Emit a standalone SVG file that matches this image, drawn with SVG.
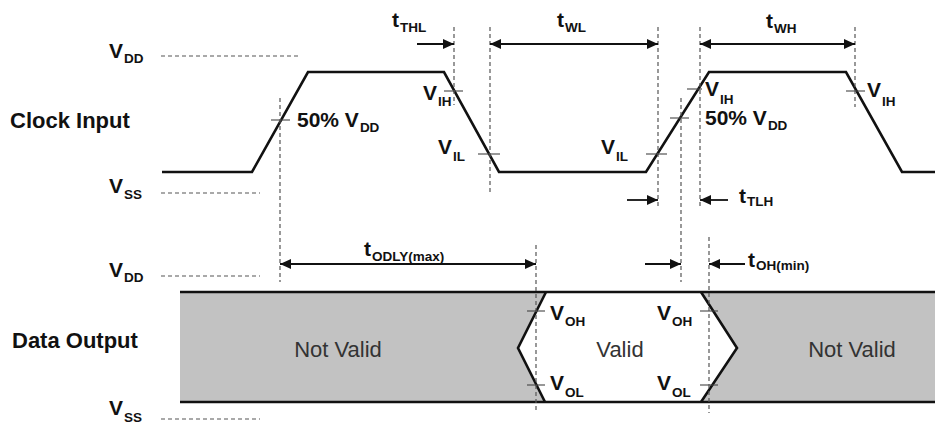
<svg xmlns="http://www.w3.org/2000/svg" width="935" height="426" viewBox="0 0 935 426">
<style>
.lbl{font-family:"Liberation Sans",Arial,sans-serif;font-weight:bold;font-size:21px;fill:#111}
.sub{font-size:13.5px}
.row{font-family:"Liberation Sans",Arial,sans-serif;font-weight:bold;font-size:22px;fill:#111}
.st{font-family:"Liberation Sans",Arial,sans-serif;font-size:22px;fill:#333}
.wave{fill:none;stroke:#111;stroke-width:2.6;stroke-linejoin:miter}
.ref{stroke:#555;stroke-width:1.2;stroke-dasharray:4 3;fill:none}
.tick{stroke:#444;stroke-width:1.1}
.arr{stroke:#111;stroke-width:1.8;fill:none}
.band{fill:#c2c2c2;stroke:none}
</style>
<defs>
<marker id="ah" markerUnits="userSpaceOnUse" markerWidth="12" markerHeight="10" refX="11" refY="5" orient="auto-start-reverse">
<path d="M0,0 L11,5 L0,10 Z" fill="#111"/>
</marker>
</defs>
<rect width="935" height="426" fill="#fff"/>

<g id="levels">
<line class="ref" x1="161" y1="56" x2="300" y2="56"/>
<line class="ref" x1="161" y1="193" x2="260" y2="193"/>
<line class="ref" x1="161" y1="276" x2="260" y2="276"/>
<line class="ref" x1="161" y1="419" x2="260" y2="419"/>
<text class="lbl" x="109" y="58">V<tspan class="sub" dx="1" dy="5">DD</tspan></text>
<text class="lbl" x="109" y="193">V<tspan class="sub" dx="1" dy="6">SS</tspan></text>
<text class="lbl" x="109" y="277">V<tspan class="sub" dx="1" dy="5">DD</tspan></text>
<text class="lbl" x="109" y="415">V<tspan class="sub" dx="1" dy="7">SS</tspan></text>
<text class="row" x="10" y="128">Clock Input</text>
<text class="row" x="12" y="348">Data Output</text>
</g>

<g id="clock">
<polyline class="wave" points="162,172 252,172 308,72 444,72 499,172 646,172 709,72 846,72 902,172 935,172"/>
<line class="tick" x1="271" y1="120" x2="290" y2="120"/>
<line class="tick" x1="444" y1="91" x2="463" y2="91"/>
<line class="tick" x1="478" y1="154" x2="500" y2="154"/>
<line class="tick" x1="646" y1="154" x2="667" y2="154"/>
<line class="tick" x1="670" y1="118" x2="689" y2="118"/>
<line class="tick" x1="687" y1="89" x2="702" y2="89"/>
<line class="tick" x1="846" y1="91" x2="865" y2="91"/>
<text class="lbl" x="297" y="127">50% V<tspan class="sub" dx="1" dy="5">DD</tspan></text>
<text class="lbl" x="423" y="100">V<tspan class="sub" dx="1" dy="6">IH</tspan></text>
<text class="lbl" x="438" y="154">V<tspan class="sub" dx="1" dy="7">IL</tspan></text>
<text class="lbl" x="601" y="154">V<tspan class="sub" dx="1" dy="7">IL</tspan></text>
<text class="lbl" x="705" y="96">V<tspan class="sub" dx="1" dy="8">IH</tspan></text>
<text class="lbl" x="705" y="125">50% V<tspan class="sub" dx="1" dy="5">DD</tspan></text>
<text class="lbl" x="867" y="97">V<tspan class="sub" dx="1" dy="9">IH</tspan></text>
</g>

<g id="data">
<polygon class="band" points="180,292 546,292 518,348 545,402 180,402"/>
<polygon class="band" points="701,292 935,292 935,402 701,402 737,348"/>
<line class="wave" x1="180" y1="292" x2="935" y2="292"/>
<line class="wave" x1="180" y1="402" x2="935" y2="402"/>
<polyline class="wave" points="546,292 518,348 545,402"/>
<polyline class="wave" points="701,292 737,348 701,402"/>
<line class="tick" x1="527" y1="311" x2="545" y2="311"/>
<line class="tick" x1="527" y1="385" x2="545" y2="385"/>
<line class="tick" x1="700" y1="311" x2="718" y2="311"/>
<line class="tick" x1="700" y1="385" x2="718" y2="385"/>
<text class="st" x="338" y="357" text-anchor="middle">Not Valid</text>
<text class="st" x="620" y="357" text-anchor="middle">Valid</text>
<text class="st" x="852" y="357" text-anchor="middle">Not Valid</text>
<text class="lbl" x="550" y="320">V<tspan class="sub" dx="1" dy="6">OH</tspan></text>
<text class="lbl" x="550" y="390">V<tspan class="sub" dx="1" dy="7">OL</tspan></text>
<text class="lbl" x="657" y="320">V<tspan class="sub" dx="1" dy="6">OH</tspan></text>
<text class="lbl" x="657" y="390">V<tspan class="sub" dx="1" dy="7">OL</tspan></text>
</g>

<g id="connectors">
<line class="ref" x1="280" y1="98" x2="280" y2="282"/>
<line class="ref" x1="454" y1="27" x2="454" y2="105"/>
<line class="ref" x1="490" y1="27" x2="490" y2="192"/>
<line class="ref" x1="658" y1="27" x2="658" y2="207"/>
<line class="ref" x1="681" y1="98" x2="681" y2="282"/>
<line class="ref" x1="700" y1="27" x2="700" y2="207"/>
<line class="ref" x1="855" y1="27" x2="855" y2="107"/>
<line class="ref" x1="536" y1="245" x2="536" y2="413"/>
<line class="ref" x1="709" y1="237" x2="709" y2="413"/>

<line class="arr" x1="417" y1="44" x2="454" y2="44" marker-end="url(#ah)"/>
<line class="arr" x1="490" y1="44" x2="658" y2="44" marker-start="url(#ah)" marker-end="url(#ah)"/>
<line class="arr" x1="700" y1="44" x2="855" y2="44" marker-start="url(#ah)" marker-end="url(#ah)"/>
<line class="arr" x1="627" y1="200" x2="658" y2="200" marker-end="url(#ah)"/>
<line class="arr" x1="728" y1="200" x2="700" y2="200" marker-end="url(#ah)"/>
<line class="arr" x1="280" y1="264" x2="536" y2="264" marker-start="url(#ah)" marker-end="url(#ah)"/>
<line class="arr" x1="645" y1="264" x2="681" y2="264" marker-end="url(#ah)"/>
<line class="arr" x1="745" y1="264" x2="709" y2="264" marker-end="url(#ah)"/>

<text class="lbl" x="392" y="27">t<tspan class="sub" dx="1" dy="5">THL</tspan></text>
<text class="lbl" x="557" y="27">t<tspan class="sub" dx="1" dy="5">WL</tspan></text>
<text class="lbl" x="766" y="28">t<tspan class="sub" dx="1" dy="5">WH</tspan></text>
<text class="lbl" x="739" y="203">t<tspan class="sub" dx="1" dy="3">TLH</tspan></text>
<text class="lbl" x="364" y="256">t<tspan class="sub" dx="1" dy="5">ODLY(max)</tspan></text>
<text class="lbl" x="748" y="267">t<tspan class="sub" dx="1" dy="3">OH(min)</tspan></text>
</g>
</svg>
